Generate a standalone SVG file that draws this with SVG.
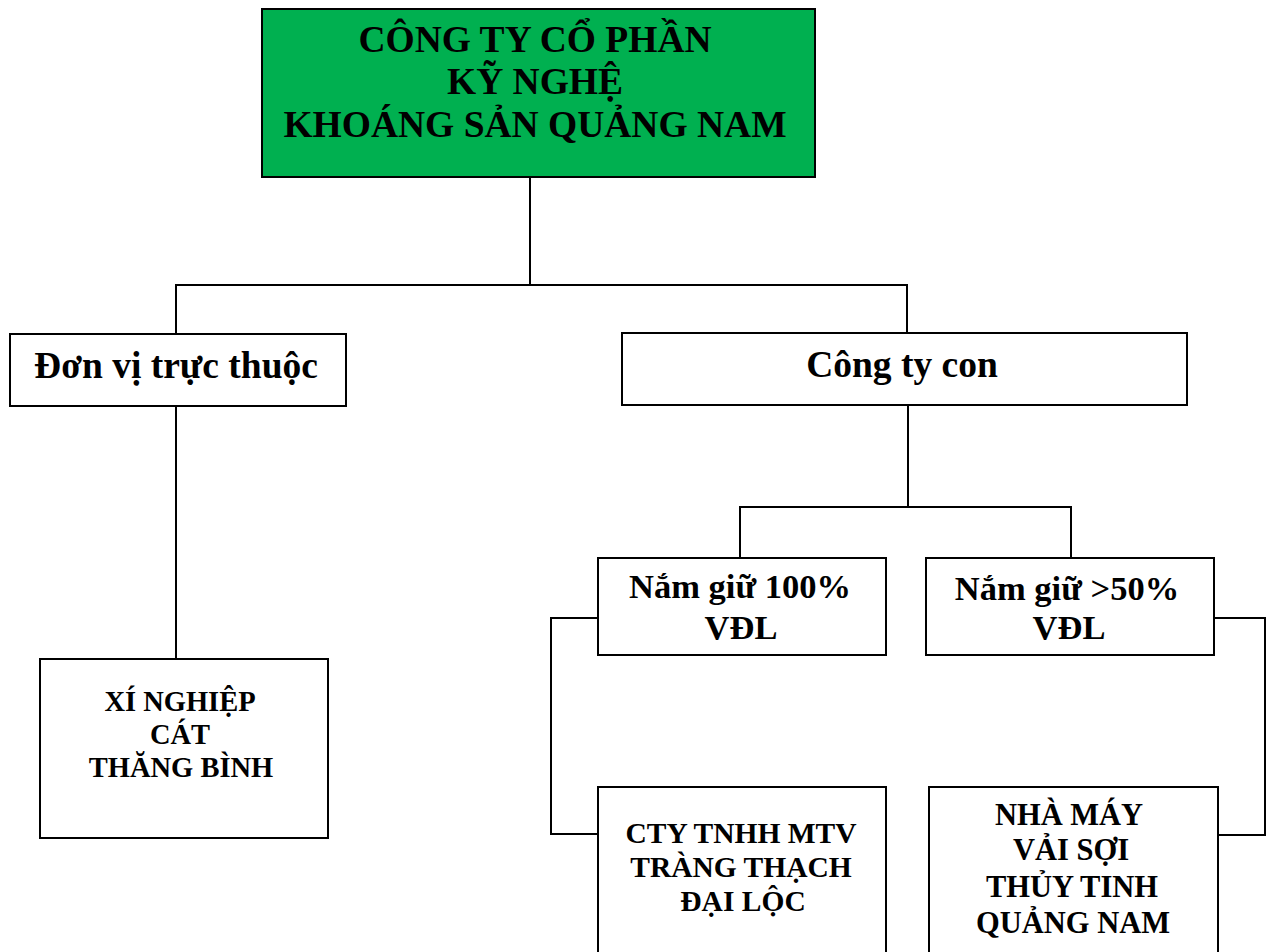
<svg xmlns="http://www.w3.org/2000/svg" width="1269" height="952" viewBox="0 0 1269 952">
<style>
.box{fill:#ffffff;stroke:#000000;stroke-width:2}
.top{fill:#00b050;stroke:#000000;stroke-width:2}
.t{font-family:"Liberation Serif","Times New Roman",serif;font-weight:bold;fill:#000000;text-anchor:middle}
.c{fill:none;stroke:#000000;stroke-width:2}
</style>
<rect width="1269" height="952" fill="#ffffff"/>
<g id="connectors">
<polyline class="c" points="530,177 530,285"/>
<polyline class="c" points="176,334 176,285 907,285 907,333"/>
<polyline class="c" points="176,406 176,659"/>
<polyline class="c" points="908,405 908,507"/>
<polyline class="c" points="740,557 740,507 1071,507 1071,557"/>
<polyline class="c" points="598,618 551,618 551,834 598,834"/>
<polyline class="c" points="1214,618 1265,618 1265,835 1218,835"/>
</g>
<g id="node-root">
<rect class="top" x="262" y="9" width="553" height="168"/>
<text class="t" font-size="37.5" x="535" y="52">CÔNG TY CỔ PHẦN</text>
<text class="t" font-size="37.5" x="535" y="94">KỸ NGHỆ</text>
<text class="t" font-size="37.5" x="535" y="137">KHOÁNG SẢN QUẢNG NAM</text>
</g>
<g id="node-donvi">
<rect class="box" x="10" y="334" width="336" height="72"/>
<text class="t" font-size="37.5" x="176" y="378">Đơn vị trực thuộc</text>
</g>
<g id="node-congtycon">
<rect class="box" x="622" y="333" width="565" height="72"/>
<text class="t" font-size="37.5" x="902" y="377">Công ty con</text>
</g>
<g id="node-xinghiep">
<rect class="box" x="40" y="659" width="288" height="179"/>
<text class="t" font-size="28.5" x="180" y="711">XÍ NGHIỆP</text>
<text class="t" font-size="28.5" x="180" y="744">CÁT</text>
<text class="t" font-size="28.5" x="181" y="777">THĂNG BÌNH</text>
</g>
<g id="node-100">
<rect class="box" x="598" y="558" width="288" height="97"/>
<text class="t" font-size="34.5" x="740" y="598">Nắm giữ 100%</text>
<text class="t" font-size="34.5" x="741" y="639">VĐL</text>
</g>
<g id="node-50">
<rect class="box" x="926" y="558" width="288" height="97"/>
<text class="t" font-size="34.5" x="1067" y="600">Nắm giữ &gt;50%</text>
<text class="t" font-size="34.5" x="1069" y="639">VĐL</text>
</g>
<g id="node-cty">
<rect class="box" x="598" y="787" width="288" height="180"/>
<text class="t" font-size="29.5" x="741" y="843">CTY TNHH MTV</text>
<text class="t" font-size="29.5" x="741" y="877">TRÀNG THẠCH</text>
<text class="t" font-size="29.5" x="743" y="911">ĐẠI LỘC</text>
</g>
<g id="node-nhamay">
<rect class="box" x="929" y="787" width="289" height="180"/>
<text class="t" font-size="30.5" x="1069" y="825">NHÀ MÁY</text>
<text class="t" font-size="30.5" x="1071" y="860">VẢI SỢI</text>
<text class="t" font-size="30.5" x="1072" y="897">THỦY TINH</text>
<text class="t" font-size="30.5" x="1073" y="933">QUẢNG NAM</text>
</g>
</svg>
